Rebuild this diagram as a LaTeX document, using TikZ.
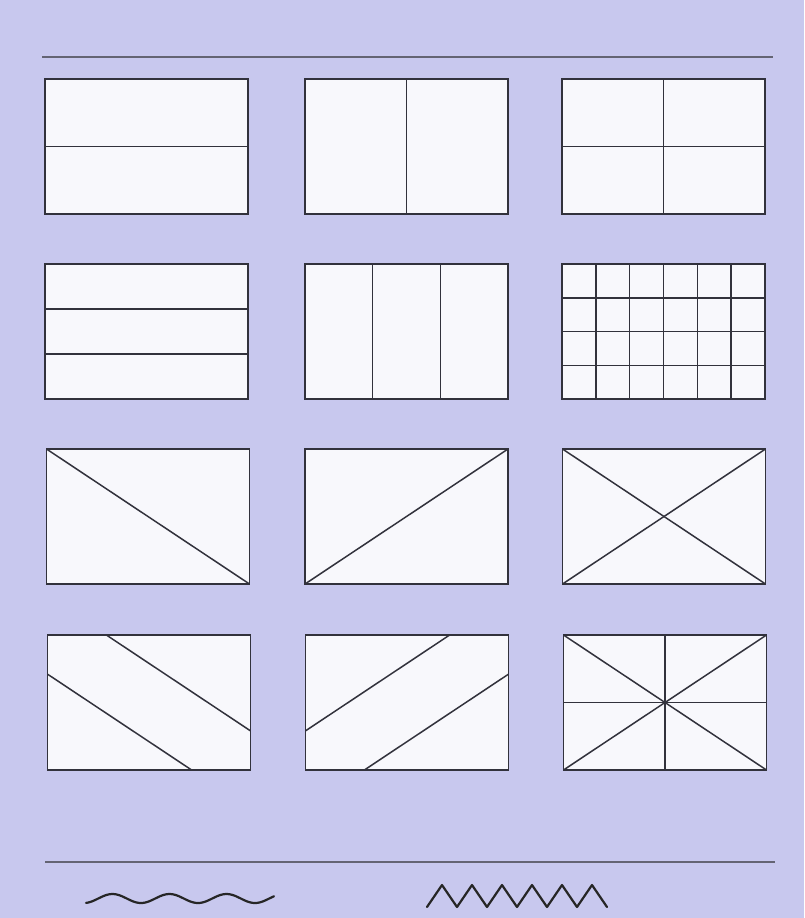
\documentclass[tikz,border=0pt]{standalone}
\usepackage{tikz}
\usetikzlibrary{
    positioning,
    calc
}
\definecolor{pagebg}{RGB}{200,200,238}
\definecolor{cardfill}{RGB}{248,248,252}
\definecolor{inkline}{RGB}{50,50,60}
\definecolor{ruleline}{RGB}{100,100,115}
\tikzstyle{panel} = [
    rectangle,
    draw=inkline,
    fill=cardfill,
    line width=1.6pt,
    minimum width=203pt,
    minimum height=135pt,
    inner sep=0pt,
    outer sep=0pt
]
\tikzstyle{split} = [
    draw=inkline,
    line width=1.5pt
]
\tikzstyle{rule} = [
    draw=ruleline,
    line width=1.2pt
]
\tikzstyle{stroke} = [
    draw=black!85,
    line width=2.2pt,
    line join=round,
    line cap=round
]
\begin{document}
\begin{tikzpicture}[x=1pt, y=-1pt, node distance=50pt and 56pt]
        \fill[pagebg] (0,0) rectangle (804,918);
        \useasboundingbox (0,0) rectangle (804,918);

        % top rule
        \coordinate (topl) at (42,57);
        \coordinate (topr) at (773,57);
        \draw[rule] (topl) -- (topr);

        % row 1
        \node[panel] (a1) at (146.5,146.5) {};
        \node[panel, right=57pt of a1] (b1) {};
        \node[panel, right=54pt of b1] (c1) {};
        \draw[split] (a1.west) -- (a1.east);
        \draw[split] (b1.north) -- (b1.south);
        \draw[split] (c1.west) -- (c1.east);
        \draw[split] (c1.north) -- (c1.south);

        % row 2
        \node[panel, below=of a1] (a2) {};
        \node[panel, below=of b1] (b2) {};
        \node[panel, below=of c1] (c2) {};
        \foreach \f in {1/3,2/3} {
            \draw[split] ($(a2.north west)!\f!(a2.south west)$) -- ($(a2.north east)!\f!(a2.south east)$);
            \draw[split] ($(b2.north west)!\f!(b2.north east)$) -- ($(b2.south west)!\f!(b2.south east)$);
        }
        \foreach \i in {1,...,5}
            \draw[split] ($(c2.north west)!\i/6!(c2.north east)$) -- ($(c2.south west)!\i/6!(c2.south east)$);
        \foreach \j in {1,2,3}
            \draw[split] ($(c2.north west)!\j/4!(c2.south west)$) -- ($(c2.north east)!\j/4!(c2.south east)$);

        % row 3
        \node[panel, below=of a2, xshift=1.5pt] (a3) {};
        \node[panel, below=of b2] (b3) {};
        \node[panel, below=of c2, xshift=0.5pt] (c3) {};
        \draw[split] (a3.north west) -- (a3.south east);
        \draw[split] (b3.south west) -- (b3.north east);
        \draw[split] (c3.north west) -- (c3.south east);
        \draw[split] (c3.south west) -- (c3.north east);

        % row 4
        \node[panel, below=51pt of a3, xshift=1pt] (a4) {};
        \node[panel, below=51pt of b3, xshift=0.5pt] (b4) {};
        \node[panel, below=51pt of c3, xshift=1pt] (c4) {};
        \draw[split] ($(a4.north west)!0.29!(a4.south west)$) -- ($(a4.south west)!0.71!(a4.south east)$);
        \draw[split] ($(a4.north west)!0.29!(a4.north east)$) -- ($(a4.north east)!0.71!(a4.south east)$);
        \draw[split] ($(b4.north west)!0.71!(b4.south west)$) -- ($(b4.north west)!0.71!(b4.north east)$);
        \draw[split] ($(b4.south west)!0.29!(b4.south east)$) -- ($(b4.north east)!0.29!(b4.south east)$);
        \draw[split] (c4.north west) -- (c4.south east);
        \draw[split] (c4.south west) -- (c4.north east);
        \draw[split] (c4.west) -- (c4.east);
        \draw[split] (c4.north) -- (c4.south);

        % bottom rule and line samples
        \coordinate (botl) at (45,862);
        \coordinate (botr) at (775,862);
        \draw[rule] (botl) -- (botr);
        \draw[stroke] plot[domain=86:274, samples=90, smooth] (\x, {898.5 + 4.5*cos(6.3158*(\x-84))});
        \draw[stroke] (427,907) \foreach \k in {0,...,5} { -- ({442+30*\k},885) -- ({457+30*\k},907) };
    \end{tikzpicture}
\end{document}
